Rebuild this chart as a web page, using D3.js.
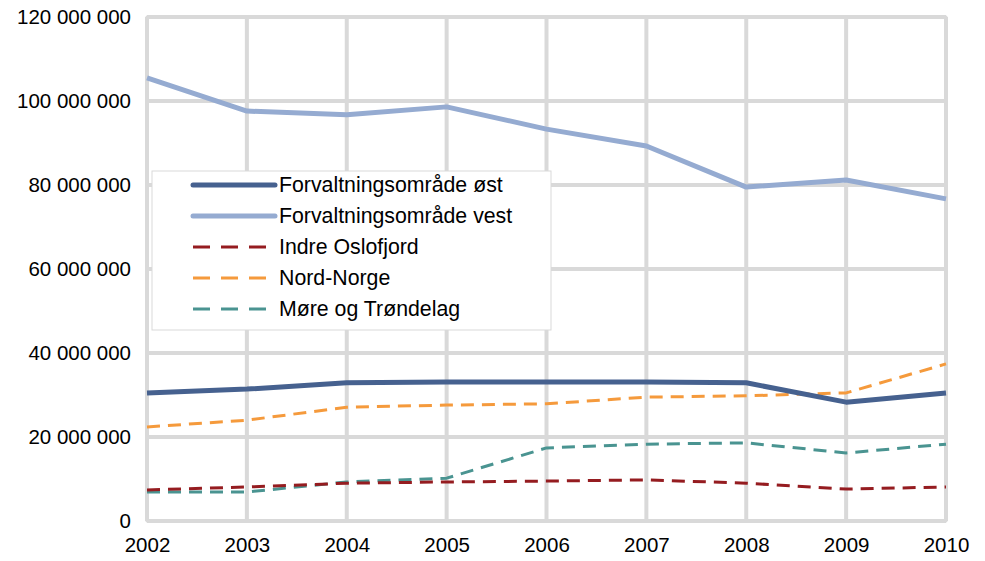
<!DOCTYPE html>
<html><head><meta charset="utf-8">
<script src="https://cdn.jsdelivr.net/npm/d3@7"></script>
<style>body{margin:0;background:#fff}text{font-family:"Liberation Sans",Arial,sans-serif}</style>
</head><body><svg id="c" width="985" height="561"></svg>
<script>
const years = [2002,2003,2004,2005,2006,2007,2008,2009,2010];
const ost = [30500000,31400000,32900000,33100000,33100000,33100000,32900000,28300000,30500000];
const vest = [105500000,97600000,96700000,98600000,93300000,89300000,79500000,81200000,76700000];
const indreOslofjord = [7400000,8100000,9000000,9300000,9500000,9800000,9000000,7600000,8100000];
const nordNorge = [22400000,24000000,27100000,27600000,27900000,29500000,29800000,30500000,37400000];
const moreTrondelag = [6900000,6900000,9300000,10200000,17400000,18300000,18600000,16200000,18300000];
const yTicks = [0,20000000,40000000,60000000,80000000,100000000,120000000];
const seriesNames = ["Forvaltningsområde øst","Forvaltningsområde vest","Indre Oslofjord","Nord-Norge","Møre og Trøndelag"];

const series = [
  {name:seriesNames[0], values:ost, color:"#46618f", w:5, dash:null},
  {name:seriesNames[1], values:vest, color:"#95abd1", w:5, dash:null},
  {name:seriesNames[2], values:indreOslofjord, color:"#951c20", w:3, dash:"13,8"},
  {name:seriesNames[3], values:nordNorge, color:"#f59a3c", w:3, dash:"13,8"},
  {name:seriesNames[4], values:moreTrondelag, color:"#4a9491", w:3, dash:"13,8"}
];

const FS = 20.5;
const svg = d3.select("#c");
const x = d3.scaleLinear().domain([2002,2010]).range([147,946]);
const y = d3.scaleLinear().domain([0,120000000]).range([521,17]);
const grid = "#d9d9d9";
const fmt = v => d3.format(",")(v).replace(/,/g," ");

// grid
svg.append("g").selectAll("line").data(yTicks).join("line")
  .attr("x1",147).attr("x2",946).attr("y1",d=>y(d)).attr("y2",d=>y(d))
  .attr("stroke",grid).attr("stroke-width",4);
svg.append("g").selectAll("line").data(years).join("line")
  .attr("x1",d=>x(d)).attr("x2",d=>x(d)).attr("y1",17).attr("y2",521)
  .attr("stroke",grid).attr("stroke-width",4);
svg.append("rect").attr("x",147).attr("y",17).attr("width",799).attr("height",504)
  .attr("fill","none").attr("stroke",grid).attr("stroke-width",4).attr("rx",2);

// axes labels
const ya = svg.append("g").attr("transform","translate(131,0)")
  .call(d3.axisLeft(y).tickValues(yTicks).tickFormat(fmt).tickSize(0).tickPadding(0));
ya.select(".domain").remove();
ya.selectAll("text").attr("font-size",FS).attr("fill","#000").attr("font-family","Liberation Sans, Arial, sans-serif");
const xa = svg.append("g").attr("transform","translate(0,530)")
  .call(d3.axisBottom(x).tickValues(years).tickFormat(d3.format("d")).tickSize(0).tickPadding(7));
xa.select(".domain").remove();
xa.selectAll("text").attr("font-size",FS).attr("fill","#000").attr("font-family","Liberation Sans, Arial, sans-serif");

// lines
const line = d3.line().x((d,i)=>x(years[i])).y(d=>y(d));
[4,2,3,0,1].forEach(k=>{
  const s = series[k];
  svg.append("path").attr("d",line(s.values)).attr("fill","none")
    .attr("stroke",s.color).attr("stroke-width",s.w)
    .attr("stroke-dasharray",s.dash).attr("stroke-linejoin","round");
});

// legend
const lg = svg.append("g");
lg.append("rect").attr("x",152).attr("y",171).attr("width",399).attr("height",159)
  .attr("fill","#fff").attr("stroke","#d9d9d9").attr("stroke-width",1);
series.forEach((s,i)=>{
  const yy = 185 + i*31;
  lg.append("line").attr("x1",193).attr("x2",275).attr("y1",yy).attr("y2",yy)
    .attr("stroke",s.color).attr("stroke-width",s.w)
    .attr("stroke-linecap",s.dash?"butt":"round")
    .attr("stroke-dasharray",s.dash?"17,11":null);
  lg.append("text").attr("x",279).attr("y",yy).attr("dy","0.35em")
    .attr("font-size",21.3).attr("fill","#000").text(s.name);
});
</script></body></html>
